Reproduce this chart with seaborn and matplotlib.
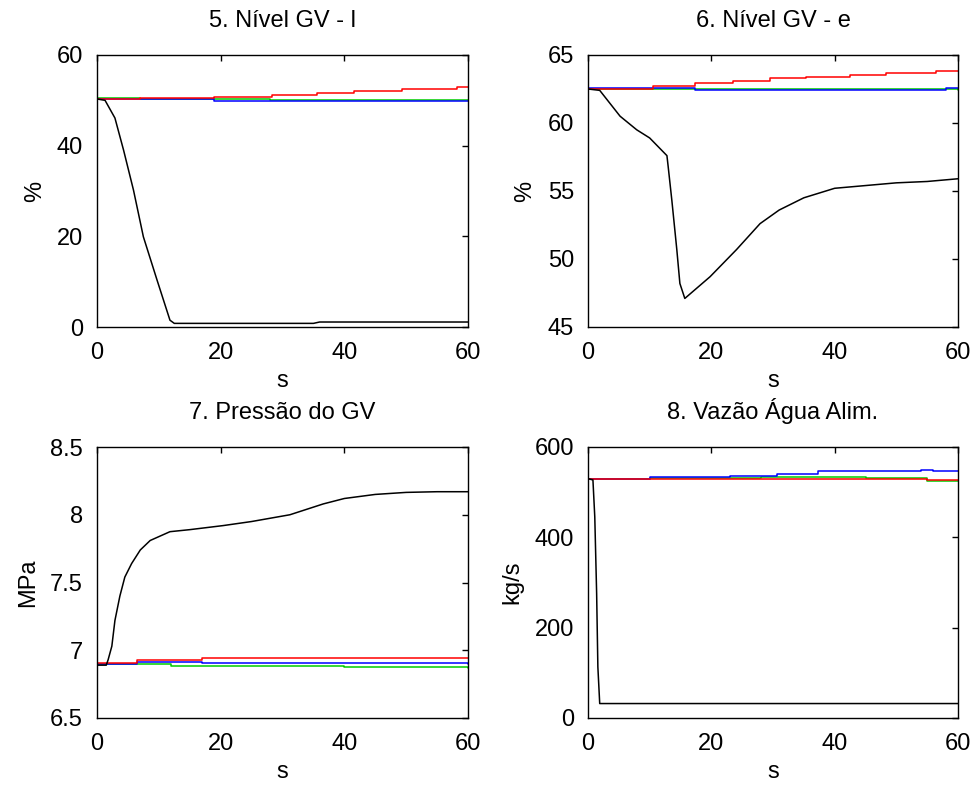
import matplotlib
matplotlib.use("Agg")
import matplotlib.pyplot as plt
import seaborn as sns

sns.set_theme(style="white")
plt.rcParams['font.family'] = ['Liberation Sans', 'DejaVu Sans']

# ---- 5. Nível GV - l ----
t5_k = [0, 1.3, 2.9, 4.3, 5.9, 7.5, 9.7, 11.8, 12.5, 35, 36, 60]
y5_k = [50.3, 50.0, 46.1, 39.0, 30.2, 19.9, 10.4, 1.5, 0.8, 0.8, 1.1, 1.1]
t5_r = [0, 7, 19, 28.3, 35.6, 41.5, 49.3, 58.2, 60]
y5_r = [50.3, 50.5, 50.8, 51.2, 51.7, 52.1, 52.5, 53.0, 53.0]
t5_g = [0, 7, 28, 60]
y5_g = [50.6, 50.3, 50.1, 50.1]
t5_b = [0, 19, 60]
y5_b = [50.2, 49.9, 49.9]

# ---- 6. Nível GV - e ----
t6_k = [0, 1.9, 5.2, 7.9, 10.0, 12.8, 13.0, 13.6, 14.4, 14.9, 15.7, 19.8, 24.1,
        27.9, 31, 35, 40, 45, 50, 55, 60]
y6_k = [62.5, 62.4, 60.5, 59.5, 58.9, 57.6, 56.8, 54.3, 50.7, 48.2, 47.1, 48.7,
        50.7, 52.6, 53.6, 54.5, 55.2, 55.4, 55.6, 55.7, 55.9]
t6_r = [0, 10.5, 17.3, 23.5, 29.5, 35.4, 42.5, 48.4, 56.5, 60]
y6_r = [62.5, 62.7, 62.95, 63.1, 63.3, 63.4, 63.5, 63.65, 63.8, 63.8]
t6_g = [0, 60]
y6_g = [62.5, 62.45]
t6_b = [0, 17.3, 58, 60]
y6_b = [62.55, 62.45, 62.6, 62.6]

# ---- 7. Pressão do GV ----
t7_k = [0, 1.5, 1.8, 2.4, 2.9, 3.7, 4.5, 5.6, 7.0, 8.6, 11.8, 15.0, 20.4, 25,
        31.2, 36.6, 40, 45, 50, 55, 60]
y7_k = [6.89, 6.89, 6.93, 7.03, 7.22, 7.40, 7.54, 7.64, 7.74, 7.81, 7.875, 7.89,
        7.92, 7.95, 8.0, 8.08, 8.12, 8.15, 8.165, 8.17, 8.17]
t7_r = [0, 6.4, 17, 60]
y7_r = [6.905, 6.93, 6.945, 6.945]
t7_g = [0, 12, 40, 60]
y7_g = [6.895, 6.885, 6.88, 6.87]
t7_b = [0, 6.4, 17, 60]
y7_b = [6.9, 6.915, 6.905, 6.895]

# ---- 8. Vazão Água Alim. ----
t8_k = [0, 0.8, 1.1, 1.4, 1.6, 1.9, 60]
y8_k = [530, 527, 445, 276, 113, 32, 32]
t8_r = [0, 55, 60]
y8_r = [530, 526, 526]
t8_g = [0, 10, 28, 45, 55, 60]
y8_g = [530, 532, 534, 532, 525, 525]
t8_b = [0, 10, 23, 30.6, 37.3, 54, 56, 60]
y8_b = [530, 533, 535, 541, 546, 550, 546, 546]

titles = ["5. Nível GV - l", "6. Nível GV - e", "7. Pressão do GV", "8. Vazão Água Alim."]
ylabels = ["%", "%", "MPa", "kg/s"]
ylims = [(0, 60), (45, 65), (6.5, 8.5), (0, 600)]
yticks = [[0, 20, 40, 60], [45, 50, 55, 60, 65], [6.5, 7, 7.5, 8, 8.5], [0, 200, 400, 600]]
ytick_labels = [["0", "20", "40", "60"], ["45", "50", "55", "60", "65"],
                ["6.5", "7", "7.5", "8", "8.5"], ["0", "200", "400", "600"]]
xticks = [0, 20, 40, 60]

panels = [
    [(t5_g, y5_g), (t5_b, y5_b), (t5_r, y5_r), (t5_k, y5_k)],
    [(t6_g, y6_g), (t6_b, y6_b), (t6_r, y6_r), (t6_k, y6_k)],
    [(t7_g, y7_g), (t7_b, y7_b), (t7_r, y7_r), (t7_k, y7_k)],
    [(t8_g, y8_g), (t8_b, y8_b), (t8_r, y8_r), (t8_k, y8_k)],
]
colors = ["#00cc00", "#0000ff", "#ff0000", "#000000"]
steps = [True, True, True, False]

fig = plt.figure(figsize=(9.75, 7.87), dpi=100)
W, H = 975, 787
boxes = [(97, 55, 468, 327), (588, 55, 958, 327),
         (97, 447, 468, 718), (588, 447, 958, 718)]

for i, (x0, y0, x1, y1) in enumerate(boxes):
    ax = fig.add_axes([x0 / W, 1 - y1 / H, (x1 - x0) / W, (y1 - y0) / H])
    for (tt, yy), c, st in zip(panels[i], colors, steps):
        kw = dict(drawstyle="steps-post") if st else {}
        sns.lineplot(x=tt, y=yy, ax=ax, color=c, linewidth=1.1,
                     estimator=None, sort=False, legend=False, **kw)
    ax.set_xlim(0, 60)
    ax.set_ylim(*ylims[i])
    ax.set_xticks(xticks)
    ax.set_xticklabels([str(v) for v in xticks])
    ax.set_yticks(yticks[i])
    ax.set_yticklabels(ytick_labels[i])
    ax.set_title(titles[i], fontsize=17, pad=20, color="black")
    ax.set_xlabel("s", fontsize=17, labelpad=4, color="black")
    ax.set_ylabel(ylabels[i], fontsize=17, labelpad=8, color="black")
    ax.tick_params(axis="both", direction="in", length=4, width=1, top=True,
                   right=True, labelsize=17, colors="black")
    ax.tick_params(axis="x", pad=11)
    ax.tick_params(axis="y", pad=10)
    for sp in ax.spines.values():
        sp.set_visible(True)
        sp.set_color("black")
        sp.set_linewidth(1.0)
    ax.set_facecolor("white")

fig.savefig("out.png", dpi=100, facecolor="white")
